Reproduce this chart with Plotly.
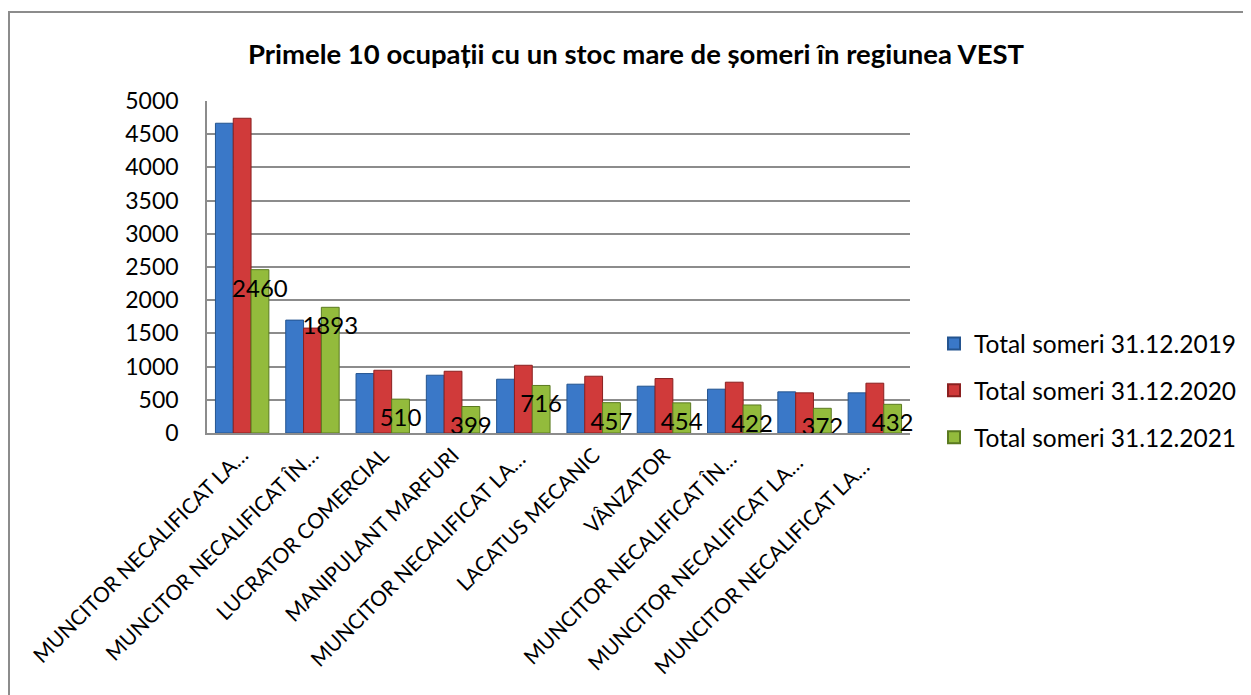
import plotly.graph_objects as go

categories = [
    "MUNCITOR NECALIFICAT LA…",
    "MUNCITOR NECALIFICAT ÎN…",
    "LUCRATOR COMERCIAL",
    "MANIPULANT MARFURI",
    "MUNCITOR NECALIFICAT LA… ",
    "LACATUS MECANIC",
    "VÂNZATOR",
    "MUNCITOR NECALIFICAT ÎN… ",
    "MUNCITOR NECALIFICAT LA…  ",
    "MUNCITOR NECALIFICAT LA…   ",
]
someri_2019 = [4665, 1700, 895, 870, 810, 735, 705, 660, 620, 605]
someri_2020 = [4740, 1580, 945, 930, 1020, 855, 820, 765, 605, 750]
someri_2021 = [2460, 1893, 510, 399, 716, 457, 454, 422, 372, 432]

series_names = [
    "Total someri 31.12.2019",
    "Total someri 31.12.2020",
    "Total someri 31.12.2021",
]
y_ticks = [0, 500, 1000, 1500, 2000, 2500, 3000, 3500, 4000, 4500, 5000]

# page body adds an 8px offset, so the figure is 8px smaller and all
# reference pixel positions are shifted by -8
OFF = 8
W, H = 1251 - OFF, 695 - OFF
L, T = 207 - OFF, 101 - OFF
R = W - (910 - OFF)
B = H - (433 - OFF)
pw, ph = W - L - R, H - T - B


def px_x(x):
    return (x - OFF - L) / pw


def px_y(y):
    return (H - B - (y - OFF)) / ph


FONT = "Lato"
fig = go.Figure()
colors = ["#3a78c8", "#d03a3a", "#93bb3c"]
edges = ["#24548f", "#8a2020", "#5a7a20"]

for i, (name, vals, col, edge) in enumerate(zip(series_names, [someri_2019, someri_2020, someri_2021], colors, edges)):
    is_last = i == 2
    fig.add_trace(go.Bar(
        x=categories, y=vals, name=name, legendgroup=name,
        marker=dict(color=col, line=dict(color=edge, width=1)),
        text=[str(v) for v in vals] if is_last else None,
        textposition="inside" if is_last else None,
        insidetextanchor="end",
        textangle=0,
        constraintext="none",
        cliponaxis=False,
        textfont=dict(family=FONT, size=24, color="black"),
    ))

fig.update_layout(
    width=W, height=H,
    margin=dict(l=L, r=R, t=T, b=B, autoexpand=False),
    paper_bgcolor="white", plot_bgcolor="white",
    barmode="group", bargap=0.24, bargroupgap=0,
    font=dict(family=FONT, color="black"),
    title=dict(
        text="<b>Primele 10 ocupații cu un stoc mare de șomeri în regiunea VEST</b>",
        x=(636 - OFF) / W, xanchor="center", y=1 - (54 - OFF) / H, yanchor="middle",
        font=dict(size=27.5, family=FONT),
    ),
    legend=dict(
        x=px_x(934), y=px_y(321), xanchor="left", yanchor="top",
        font=dict(size=24.5), traceorder="grouped", tracegroupgap=12, itemsizing="constant",
    ),
    showlegend=True,
    shapes=[dict(
        type="rect", xref="paper", yref="paper",
        x0=px_x(9), x1=px_x(1270),
        y0=px_y(720), y1=px_y(12),
        line=dict(color="#8c8c8c", width=2), fillcolor="rgba(0,0,0,0)", layer="below",
    )],
)
fig.update_yaxes(
    range=[0, 5000], tickvals=y_ticks, showgrid=True, gridcolor="#8c8c8c", gridwidth=1.5,
    showline=True, linecolor="#8c8c8c", linewidth=1.5, ticks="", tickfont=dict(size=23),
    zeroline=False, ticklabelstandoff=22,
)
fig.update_xaxes(
    tickangle=-45, tickfont=dict(size=21), showline=True, linecolor="#8c8c8c", linewidth=1.5,
    ticks="",
)

fig.write_html("out.html")
